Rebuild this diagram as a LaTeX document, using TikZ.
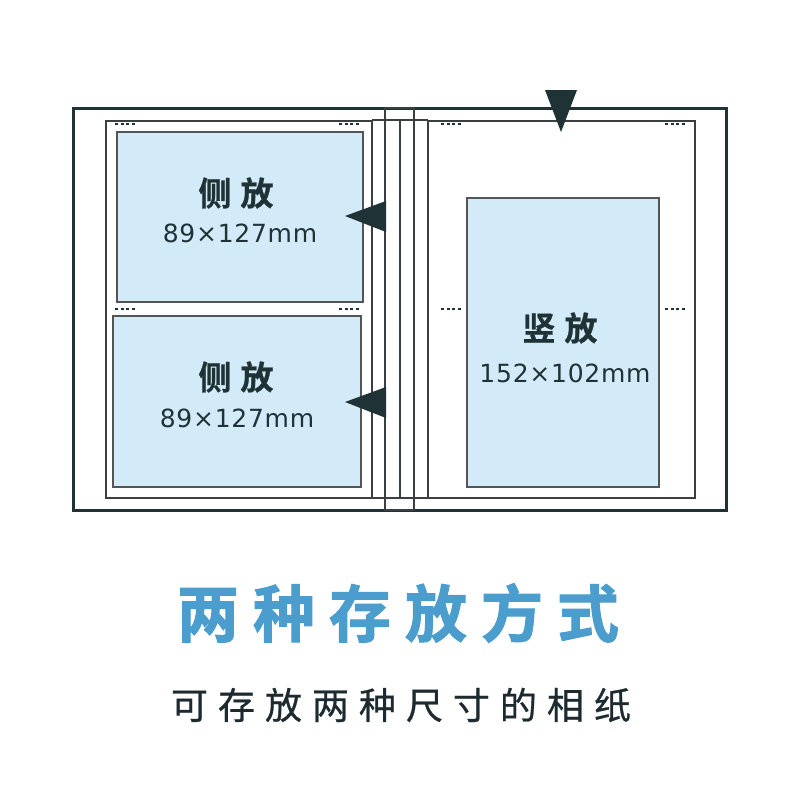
\documentclass[tikz,border=0pt]{standalone}
\usepackage{fontspec}
\setmainfont{Noto Sans CJK SC}
\newfontfamily\numfont[LetterSpace=3]{DejaVu Sans}
\newfontfamily\heavyfont[FakeBold=1.6]{Noto Sans CJK SC Bold}
\newfontfamily\midfont[FakeBold=0.6]{Noto Sans CJK SC}
\newfontfamily\labelfont[FakeBold=0.8]{Noto Sans CJK SC Bold}
\definecolor{dark}{HTML}{1F3236}
\definecolor{pageline}{HTML}{3A3F42}
\definecolor{photofill}{HTML}{D3EBF9}
\definecolor{photoline}{HTML}{555555}
\definecolor{titleblue}{HTML}{4A9DCC}
\definecolor{subtext}{HTML}{1D2B30}
\tikzset{
  frameline/.style={draw=dark, line width=3pt},
  pageedge/.style={draw=pageline, line width=2.6pt},
  photo/.style={fill=photofill, draw=photoline, line width=1.8pt},
  dashmark/.style={draw=dark, line width=1.6pt, dash pattern=on 3pt off 2.6pt},
  pointer/.style={fill=dark},
  sidelabel/.style={font=\labelfont\fontsize{33}{36}\selectfont, text=dark, inner sep=0pt},
  sizelabel/.style={font=\numfont\fontsize{25}{28}\selectfont, text=dark, inner sep=0pt},
}
\begin{document}
\begin{tikzpicture}[x=1pt,y=-1pt]
\useasboundingbox[fill=white] (0,0) rectangle (800,800);
% outer cover
\draw[frameline] (73,108) rectangle (726,510);
% spine box
\draw[pageedge] (385,108) rectangle (414,510);
\draw[pageedge] (372,120) -- (428,120);
\draw[pageedge] (372,498) -- (428,498);
\draw[pageedge] (400,120) -- (400,498);
% pages
\draw[pageedge] (106,121) rectangle (372,498);
\draw[pageedge] (428,121) rectangle (695,498);
% photos
\draw[photo] (117,132) rectangle (363,302);
\draw[photo] (113,316) rectangle (361,487);
\draw[photo] (467,198) rectangle (659,487);
% dash marks
\draw[dashmark] (115,124) -- (135,124);
\draw[dashmark] (339,124) -- (359,124);
\draw[dashmark] (115,309) -- (135,309);
\draw[dashmark] (339,309) -- (359,309);
\draw[dashmark] (441,124) -- (461,124);
\draw[dashmark] (665,124) -- (685,124);
\draw[dashmark] (441,309) -- (461,309);
\draw[dashmark] (665,309) -- (685,309);
% pointers
\fill[pointer] (545,90) -- (577,90) -- (561,132) -- cycle;
\fill[pointer] (386,201) -- (386,232) -- (345,216) -- cycle;
\fill[pointer] (386,387) -- (386,418) -- (345,402) -- cycle;
% labels
\node[sidelabel] (l1) at (236,193) {侧\hspace{9pt}放};
\node[sizelabel] (s1) at (240,233) {89×127mm};
\node[sidelabel] (l2) at (236,377) {侧\hspace{9pt}放};
\node[sizelabel] (s2) at (237,418) {89×127mm};
\node[sidelabel] (l3) at (560,328) {竖\hspace{9pt}放};
\node[sizelabel] (s3) at (565,373) {152×102mm};
% titles
\node[font=\heavyfont\fontsize{62}{70}\selectfont, text=titleblue, inner sep=0pt] (title) at (398,613)
  {两\hspace{14pt}种\hspace{14pt}存\hspace{14pt}放\hspace{14pt}方\hspace{14pt}式};
\node[font=\midfont\fontsize{37}{42}\selectfont, text=subtext, inner sep=0pt] (sub) at (401,705)
  {可\hspace{10pt}存\hspace{10pt}放\hspace{10pt}两\hspace{10pt}种\hspace{10pt}尺\hspace{10pt}寸\hspace{10pt}的\hspace{10pt}相\hspace{10pt}纸};
\end{tikzpicture}
\end{document}
